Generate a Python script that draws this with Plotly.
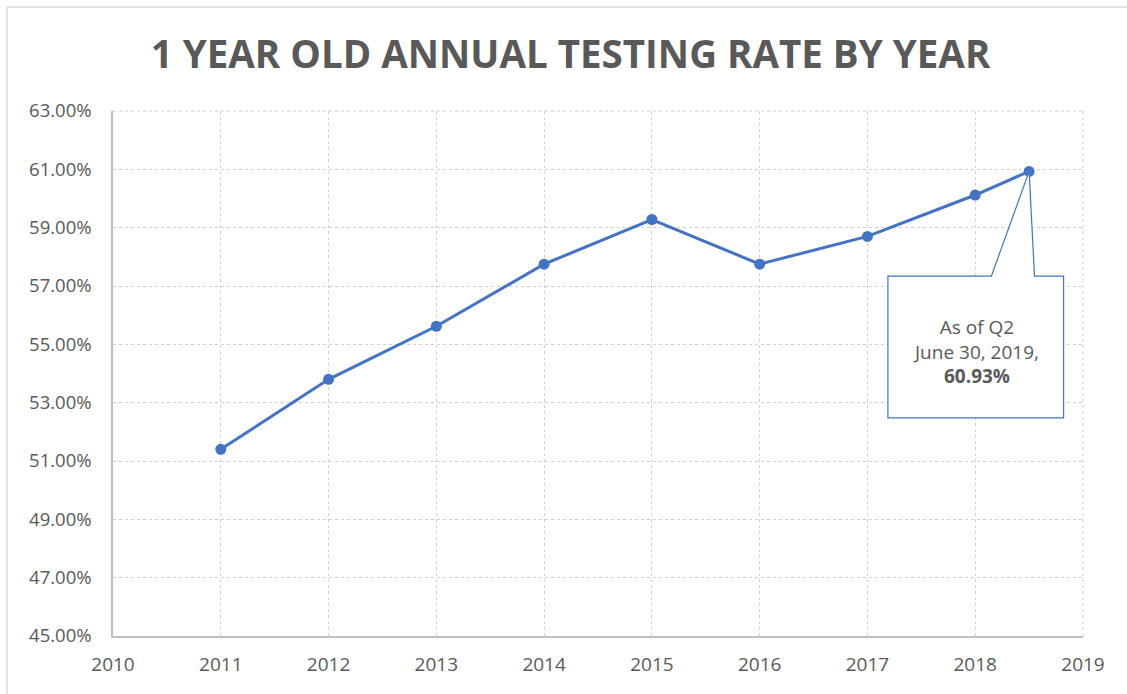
import plotly.graph_objects as go

years = [2011, 2012, 2013, 2014, 2015, 2016, 2017, 2018, 2018.5]
rates = [51.40, 53.80, 55.62, 57.75, 59.28, 57.75, 58.70, 60.12, 60.93]
y_ticks = [45, 47, 49, 51, 53, 55, 57, 59, 61, 63]
x_ticks = list(range(2010, 2020))
title_text = "1 YEAR OLD ANNUAL TESTING RATE BY YEAR"
callout_text = "As of Q2<br>June 30, 2019,<br><b>60.93%</b>"

BLUE = "#4472C4"
GREY = "#595959"
FONT = "Open Sans"
GRID = "#D0D0D0"

fig = go.Figure()
fig.add_trace(go.Scatter(
    x=years, y=rates, mode="lines+markers",
    line=dict(color=BLUE, width=3),
    marker=dict(color=BLUE, size=11),
    hoverinfo="skip", showlegend=False,
))

# grid lines on the top and right plot edges
fig.add_shape(type="line", xref="paper", yref="paper", x0=0, x1=1, y0=1, y1=1,
              line=dict(color=GRID, width=1, dash="dot"), layer="below")
fig.add_shape(type="line", xref="paper", yref="paper", x0=1, x1=1, y0=0, y1=1,
              line=dict(color=GRID, width=1, dash="dot"), layer="below")

# callout box with pointer (data coordinates)
bx0, bx1, by0, by1 = 2017.19, 2018.82, 52.48, 57.34
px0, px1 = 2018.15, 2018.55
tipx, tipy = years[-1], rates[-1]
path = (f"M {bx0},{by1} L {px0},{by1} L {tipx},{tipy} L {px1},{by1} "
        f"L {bx1},{by1} L {bx1},{by0} L {bx0},{by0} Z")
fig.add_shape(type="path", path=path, xref="x", yref="y",
              fillcolor="white", line=dict(color=BLUE, width=1.2), layer="above")
fig.add_annotation(x=(bx0 + bx1) / 2, y=(by0 + by1) / 2 - 0.15, xref="x", yref="y",
                   text=callout_text, showarrow=False,
                   font=dict(family=FONT, size=19, color=GREY),
                   align="center")

# chart-area border (left and top)
L, R, T, B = 113, 1083, 111, 636
def px_x(p): return (p - L) / (R - L)
def px_y(p): return (B - p) / (B - T)
fig.add_shape(type="line", xref="paper", yref="paper",
              x0=px_x(7), x1=px_x(7), y0=px_y(694), y1=px_y(7),
              line=dict(color="#D9D9D9", width=1.5))
fig.add_shape(type="line", xref="paper", yref="paper",
              x0=px_x(7), x1=px_x(1127), y0=px_y(7), y1=px_y(7),
              line=dict(color="#D9D9D9", width=1.5))

fig.update_layout(
    width=1127, height=694,
    margin=dict(l=L, r=1127 - R, t=T, b=694 - B),
    paper_bgcolor="white", plot_bgcolor="white",
    title=dict(text=f"<b>{title_text}</b>", x=570.5 / 1127, xanchor="center",
               y=1 - 55 / 694, yanchor="middle", xref="container", yref="container",
               font=dict(family=FONT, size=38.5, color=GREY)),
    font=dict(family=FONT, color=GREY),
)
fig.update_xaxes(range=[2010, 2019], tickvals=x_ticks,
                 ticktext=[str(t) for t in x_ticks],
                 showgrid=True, gridcolor=GRID, griddash="dot", gridwidth=1,
                 showline=True, linecolor="#BFBFBF", linewidth=1.5,
                 ticks="", zeroline=False, ticklabelstandoff=10,
                 tickfont=dict(family=FONT, size=19, color=GREY))
fig.update_yaxes(range=[45, 63], tickvals=y_ticks,
                 ticktext=[f"{v:.2f}%" for v in y_ticks],
                 showgrid=True, gridcolor=GRID, griddash="dot", gridwidth=1,
                 showline=True, linecolor="#BFBFBF", linewidth=1.5,
                 ticks="", zeroline=False, ticklabelstandoff=16,
                 tickfont=dict(family=FONT, size=18.5, color=GREY))

fig.write_html("out.html", config={"displayModeBar": False},
               post_script="document.body.style.margin='0';document.body.style.padding='0';")
